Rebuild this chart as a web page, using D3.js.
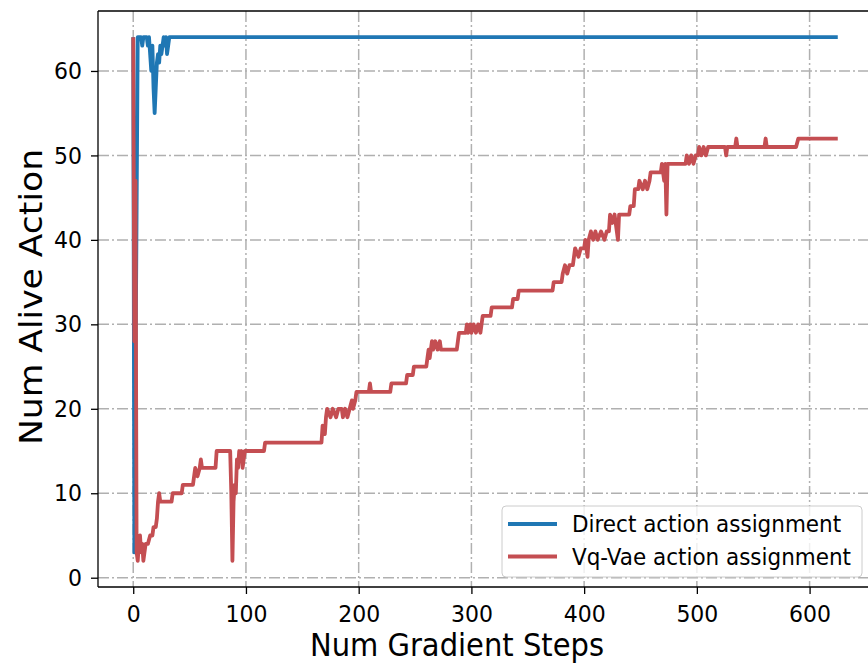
<!DOCTYPE html>
<html>
<head>
<meta charset="utf-8">
<script src="https://cdn.jsdelivr.net/npm/d3@7"></script>
<style>
  html, body { margin: 0; padding: 0; background: #fff; }
  svg { display: block; font-family: "DejaVu Sans", sans-serif; }
  .stretch { transform-box: fill-box; transform-origin: center; transform: scaleY(1.08); }
</style>
</head>
<body>
<svg id="chart" width="868" height="665"></svg>
<script>
// ---- data ----
const xTicks = [0, 100, 200, 300, 400, 500, 600];
const yTicks = [0, 10, 20, 30, 40, 50, 60];
const seriesNames = ["Direct action assignment", "Vq-Vae action assignment"];
const seriesColors = ["#1f77b4", "#c44e52"];

const directSteps  = [0, 1, 4, 7, 8, 9, 12, 13, 14, 15, 16, 17, 18, 19, 20, 21, 22, 23, 24, 25, 26, 27, 28, 29, 30, 31, 32, 625];
const directValues = [64, 3, 64, 64, 63, 64, 64, 63, 64, 62, 60, 63, 58, 55, 58, 61, 62, 61, 63, 62, 63, 64, 63, 64, 62, 63, 64, 64];

const vqSteps = [0, 1, 2, 3, 4, 5, 6, 7, 8, 9, 10, 11, 13, 15, 17, 18, 20, 21, 22, 23, 24, 27, 30, 34, 35, 43, 44, 53, 54, 55, 57, 59, 60, 61, 73, 74, 86, 87, 88, 89, 90, 91, 92, 93, 94, 95, 96, 97, 98, 99, 116, 117, 167, 168, 170, 171, 172, 175, 177, 180, 182, 185, 186, 188, 190, 192, 194, 195, 197, 198, 209, 210, 211, 228, 229, 242, 243, 248, 249, 260, 261, 262, 263, 265, 266, 268, 270, 272, 273, 287, 288, 289, 295, 296, 297, 299, 300, 302, 304, 306, 308, 309, 310, 317, 318, 336, 337, 341, 342, 372, 373, 380, 381, 383, 385, 387, 390, 391, 392, 395, 397, 400, 401, 403, 404, 406, 408, 410, 412, 415, 418, 420, 422, 423, 425, 427, 429, 430, 431, 440, 441, 444, 445, 448, 449, 452, 454, 456, 458, 459, 468, 469, 471, 472, 473, 474, 490, 491, 493, 495, 497, 499, 501, 502, 504, 506, 508, 510, 525, 526, 527, 534, 535, 536, 560, 561, 562, 588, 590, 625];
const vqValues = [64, 28, 47, 3, 2, 4, 5, 3, 4, 2, 3, 4, 4, 5, 5, 6, 6, 7, 9, 10, 9, 9, 9, 9, 10, 10, 11, 11, 12, 13, 12, 13, 14, 13, 13, 15, 15, 10, 2, 9, 11, 10, 14, 13, 15, 14, 15, 13, 14, 15, 15, 16, 16, 18, 17, 19, 20, 19, 20, 19, 20, 20, 19, 20, 19, 20, 21, 20, 21, 22, 22, 23, 22, 22, 23, 23, 24, 24, 25, 25, 26, 27, 26, 28, 27, 28, 27, 28, 27, 27, 28, 29, 29, 30, 29, 30, 29, 30, 29, 30, 29, 30, 31, 31, 32, 32, 33, 33, 34, 34, 35, 35, 36, 37, 36, 37, 37, 38, 39, 38, 39, 39, 40, 38, 40, 41, 40, 41, 40, 41, 40, 41, 41, 43, 42, 43, 41, 40, 43, 43, 44, 44, 46, 46, 47, 46, 47, 46, 47, 48, 48, 49, 47, 49, 43, 49, 49, 50, 49, 50, 49, 50, 50, 51, 50, 51, 50, 51, 51, 50, 51, 51, 52, 51, 51, 52, 51, 51, 52, 52];

// ---- layout ----
const plot = { left: 98, top: 11, bottom: 587, right: 873 };

const svg = d3.select("#chart");

const x = d3.scaleLinear().domain([-31.25, 656.25]).range([plot.left, plot.right]);
const y = d3.scaleLinear().domain([-1.1, 67.1]).range([plot.bottom, plot.top]);

svg.append("defs").append("clipPath").attr("id", "clip")
  .append("rect").attr("x", plot.left).attr("y", plot.top)
  .attr("width", plot.right - plot.left).attr("height", plot.bottom - plot.top);

// grid
const gridDash = "11,3,2,3";
const grid = svg.append("g");
grid.selectAll("line.gx").data(xTicks).join("line")
  .attr("x1", d => x(d)).attr("x2", d => x(d))
  .attr("y1", plot.top).attr("y2", plot.bottom)
  .attr("stroke", "#b0b0b0").attr("stroke-width", 1.5)
  .attr("stroke-dasharray", gridDash);
grid.selectAll("line.gy").data(yTicks).join("line")
  .attr("y1", d => y(d)).attr("y2", d => y(d))
  .attr("x1", plot.left).attr("x2", plot.right)
  .attr("stroke", "#b0b0b0").attr("stroke-width", 1.5)
  .attr("stroke-dasharray", gridDash);

// lines
const line = d3.line().x(d => x(d[0])).y(d => y(d[1]));
const directData = directSteps.map((s, i) => [s, directValues[i]]);
const vqData = vqSteps.map((s, i) => [s, vqValues[i]]);

const lines = svg.append("g").attr("clip-path", "url(#clip)");
[directData, vqData].forEach((data, i) => {
  lines.append("path").datum(data)
    .attr("d", line)
    .attr("fill", "none")
    .attr("stroke", seriesColors[i])
    .attr("stroke-width", 3.8)
    .attr("stroke-linejoin", "round")
    .attr("stroke-linecap", "butt");
});

// axes
const xAxis = d3.axisBottom(x).tickValues(xTicks).tickSize(7).tickPadding(12).tickFormat(d3.format("d"));
const yAxis = d3.axisLeft(y).tickValues(yTicks).tickSize(7).tickPadding(9).tickFormat(d3.format("d"));

const gx = svg.append("g").attr("transform", `translate(0,${plot.bottom})`).call(xAxis);
const gy = svg.append("g").attr("transform", `translate(${plot.left},0)`).call(yAxis);
[gx, gy].forEach(g => {
  g.select(".domain").remove();
  g.selectAll(".tick line").attr("stroke", "#000").attr("stroke-width", 1.3);
  g.selectAll(".tick text").attr("fill", "#000").attr("class", "stretch")
    .style("font-size", "22px").style("font-family", "DejaVu Sans");
});

// spines
svg.append("line").attr("x1", plot.left).attr("x2", plot.left)
  .attr("y1", plot.top).attr("y2", plot.bottom).attr("stroke", "#000").attr("stroke-width", 1.3);
svg.append("line").attr("x1", plot.left).attr("x2", plot.right)
  .attr("y1", plot.bottom).attr("y2", plot.bottom).attr("stroke", "#000").attr("stroke-width", 1.3);
svg.append("line").attr("x1", plot.left).attr("x2", plot.right)
  .attr("y1", plot.top).attr("y2", plot.top).attr("stroke", "#000").attr("stroke-width", 1.3);

// axis labels
svg.append("text").attr("x", 457).attr("y", 655).attr("class", "stretch")
  .attr("text-anchor", "middle").style("font-size", "29px").text("Num Gradient Steps");
svg.append("text")
  .attr("transform", `translate(42,${(plot.top + plot.bottom) / 2 - 2}) scale(1,1.08) rotate(-90)`)
  .attr("text-anchor", "middle").style("font-size", "32px").text("Num Alive Action");

// legend
const lg = svg.append("g");
lg.append("rect").attr("x", 502).attr("y", 506).attr("width", 360).attr("height", 71)
  .attr("rx", 4).attr("fill", "#fff").attr("fill-opacity", 0.8)
  .attr("stroke", "#cccccc").attr("stroke-width", 1);
seriesNames.forEach((name, i) => {
  const cy = 524 + i * 32.5;
  lg.append("line").attr("x1", 508).attr("x2", 557).attr("y1", cy).attr("y2", cy)
    .attr("stroke", seriesColors[i]).attr("stroke-width", 3.8);
  lg.append("text").attr("x", 572).attr("y", cy).attr("dy", "0.36em").attr("class", "stretch")
    .style("font-size", "21.5px").text(name);
});
</script>
</body>
</html>
